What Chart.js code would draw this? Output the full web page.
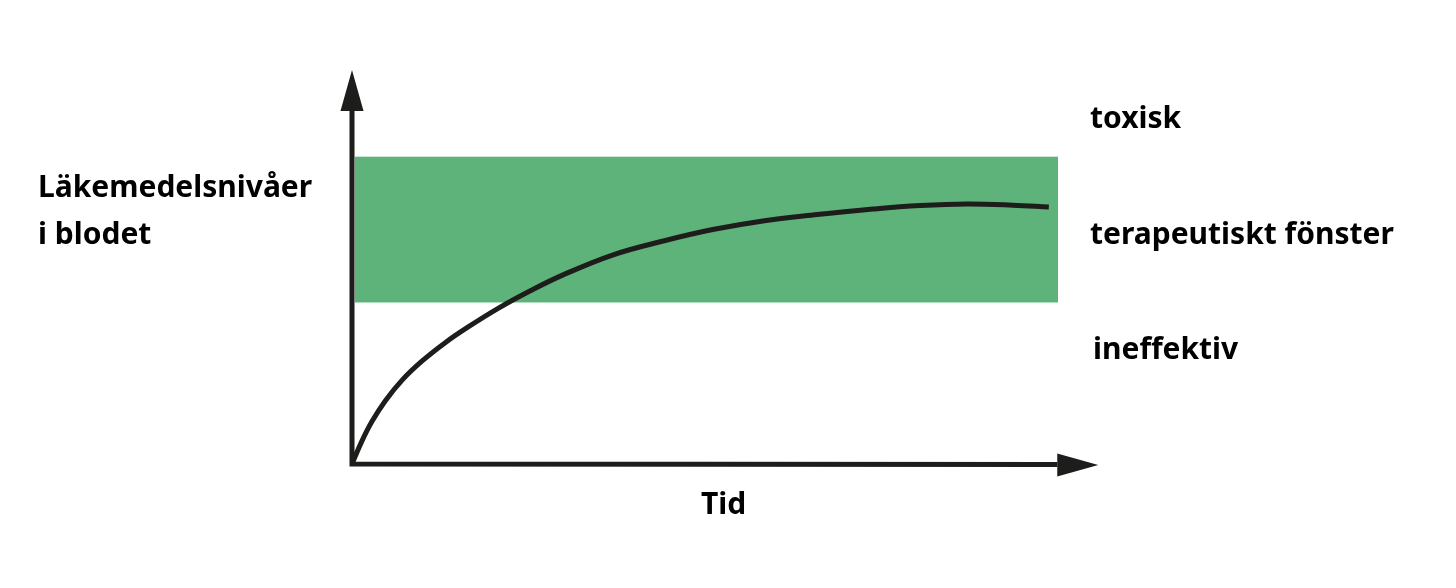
<!DOCTYPE html>
<html lang="sv">
<head>
    <meta charset="UTF-8">
    <title>Läkemedelsnivåer i blodet</title>
    <style>
        body {
            margin: 0;
            padding: 0;
            background: #fff;
        }

        #wrap {
            width: 1456px;
            height: 588px;
        }
    </style>
    <script src="https://cdn.jsdelivr.net/npm/chart.js"></script>
</head>
<body>
    <div id="wrap"><canvas id="levelChart"></canvas></div>

    <script>
        // Drug concentration over time (y in % of axis height)
        const timePoints = [0, 1.4, 2.8, 4.7, 7.1, 9.9, 13.2, 16.3, 20.7, 25.2, 29.9, 37.0, 44.1, 51.1, 58.2, 65.9, 73.8, 80.5, 87.1, 93.6, 98.7];
        const drugLevels = [0, 5.8, 10.7, 16.0, 21.3, 26.1, 30.8, 34.6, 39.5, 43.9, 48.0, 53.1, 56.6, 59.5, 61.7, 63.3, 64.7, 65.6, 66.0, 65.7, 65.2];

        // Therapeutic window: lower and upper level
        const windowRange = [41, 78];
        const windowSpan = [0.4, 100];

        const zoneLabels = ['toxisk', 'terapeutiskt fönster', 'ineffektiv'];
        const yTitle = ['Läkemedelsnivåer', 'i blodet'];
        const xTitle = 'Tid';

        const ink = '#1d1d1b';
        const font = 'bold 30px "Noto Sans", sans-serif';

        // Green band behind the curve
        const bandPlugin = {
            id: 'band',
            beforeDatasetsDraw(chart) {
                const { ctx, scales: { x, y } } = chart;
                ctx.save();
                ctx.fillStyle = '#5eb37a';
                const left = x.getPixelForValue(windowSpan[0]);
                const right = x.getPixelForValue(windowSpan[1]);
                const top = y.getPixelForValue(windowRange[1]);
                const bottom = y.getPixelForValue(windowRange[0]);
                ctx.fillRect(left, top, right - left, bottom - top);
                ctx.restore();
            }
        };

        // Axes with arrow heads, plus all the labels
        const axesPlugin = {
            id: 'arrowAxes',
            afterDatasetsDraw(chart) {
                const { ctx, scales: { x, y } } = chart;
                const x0 = x.getPixelForValue(0);
                const y0 = y.getPixelForValue(0);
                const yTip = y.getPixelForValue(100);
                const xTip = x.getPixelForValue(105.7);
                const head = 41, half = 11.5;

                ctx.save();
                ctx.strokeStyle = ink;
                ctx.fillStyle = ink;
                ctx.lineWidth = 5;
                ctx.lineCap = 'butt';

                ctx.beginPath();
                ctx.moveTo(x0, y0 + 2.5);
                ctx.lineTo(x0, yTip + head);
                ctx.moveTo(x0 - 2.5, y0);
                ctx.lineTo(xTip - head, y0 + 0.5);
                ctx.stroke();

                ctx.beginPath();
                ctx.moveTo(x0, yTip);
                ctx.lineTo(x0 + half, yTip + head);
                ctx.lineTo(x0 - half, yTip + head);
                ctx.closePath();
                ctx.fill();

                ctx.beginPath();
                ctx.moveTo(xTip, y0 + 1);
                ctx.lineTo(xTip - head, y0 + 1 - half);
                ctx.lineTo(xTip - head, y0 + 1 + half);
                ctx.closePath();
                ctx.fill();

                ctx.fillStyle = '#000';
                ctx.font = font;
                ctx.textAlign = 'left';
                ctx.textBaseline = 'alphabetic';
                ctx.fillText(zoneLabels[0], 1090, 128);
                ctx.fillText(zoneLabels[1], 1090, 244);
                ctx.fillText(zoneLabels[2], 1093, 359);
                ctx.fillText(yTitle[0], 38, 197);
                ctx.fillText(yTitle[1], 38, 244);
                ctx.fillText(xTitle, 701, 514);
                ctx.restore();
            }
        };

        new Chart(document.getElementById('levelChart'), {
            type: 'line',
            data: {
                datasets: [{
                    data: timePoints.map((t, i) => ({ x: t, y: drugLevels[i] })),
                    borderColor: ink,
                    borderWidth: 5,
                    pointRadius: 0,
                    tension: 0.4,
                    fill: false
                }]
            },
            options: {
                responsive: true,
                maintainAspectRatio: false,
                animation: false,
                layout: {
                    padding: { left: 352, right: 398, top: 70, bottom: 124 }
                },
                scales: {
                    x: { type: 'linear', min: 0, max: 100, display: false },
                    y: { min: 0, max: 100, display: false }
                },
                plugins: {
                    legend: { display: false },
                    tooltip: { enabled: false }
                }
            },
            plugins: [bandPlugin, axesPlugin]
        });
    </script>
</body>
</html>
